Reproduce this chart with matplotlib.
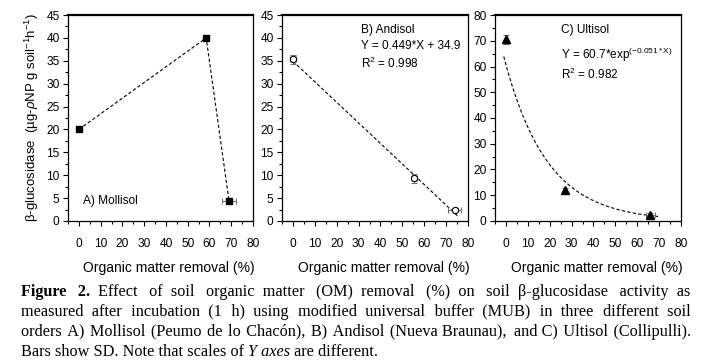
import numpy as np
import matplotlib.pyplot as plt
from matplotlib.ticker import MultipleLocator

plt.rcParams['font.family'] = ['Liberation Sans', 'DejaVu Sans']
plt.rcParams['mathtext.fontset'] = 'custom'
plt.rcParams['mathtext.rm'] = 'Liberation Sans'
plt.rcParams['mathtext.it'] = 'Liberation Sans:italic'
plt.rcParams['mathtext.bf'] = 'Liberation Sans:bold'

# A) Mollisol
mol_x = [0, 58.5, 69]
mol_y = [20, 40, 4.3]
mol_xerr = [0, 1.0, 3.3]
mol_yerr = [0, 0, 0]

# B) Andisol
and_x = [0, 55.5, 74]
and_y = [35.3, 9.3, 2.5]
and_xerr = [1.5, 1.0, 3.0]
and_yerr = [1.0, 1.0, 0.4]
and_slope, and_icpt = -0.449, 34.9
and_fit_range = (0, 75.5)

# C) Ultisol
ult_x = [0, 27, 66]
ult_y = [70.5, 12, 2.5]
ult_xerr = [0, 0, 2.0]
ult_yerr = [1.6, 0.8, 0.5]
ult_a, ult_b = 60.7, -0.051
ult_fit_range = (-1, 70)

fig = plt.figure(figsize=(7.07, 3.64), dpi=100)
W, H = 707, 364

def px_axes(l, r, t, b):
    return fig.add_axes([l / W, 1 - b / H, (r - l) / W, (b - t) / H])

axA = px_axes(68, 253, 15, 221)
axB = px_axes(282, 468, 15, 221)
axC = px_axes(495, 681, 15, 221)

for ax, ymax, ymaj in [(axA, 45, 5), (axB, 45, 5), (axC, 80, 10)]:
    ax.set_xlim(-5, 80)
    ax.set_ylim(0, ymax)
    ax.xaxis.set_major_locator(MultipleLocator(10))
    ax.xaxis.set_minor_locator(MultipleLocator(5))
    ax.yaxis.set_major_locator(MultipleLocator(ymaj))
    ax.yaxis.set_minor_locator(MultipleLocator(ymaj / 2))
    ax.tick_params(which='major', direction='out', length=3.6, width=0.8, labelsize=8.6)
    ax.tick_params(which='minor', direction='out', length=2.2, width=0.8)
    ax.tick_params(axis='x', which='major', pad=9)
    ax.tick_params(axis='y', which='major', pad=2.5)
    ax.spines['top'].set_linewidth(1.6)
    ax.spines['right'].set_linewidth(0.9)
    ax.spines['left'].set_linewidth(0.9)
    ax.spines['bottom'].set_linewidth(0.9)
    ax.set_xlabel('Organic matter removal (%)', fontsize=10)
    ax.xaxis.set_label_coords(0.546, -0.195)

axA.set_ylabel(r'β-glucosidase  (µg-$\rho$NP g soil$^{-1}$h$^{-1}$)', fontsize=9.5, labelpad=4)

ekw = dict(ecolor='0.45', elinewidth=0.8, capsize=2, capthick=0.8, linestyle='none')

# A
axA.plot(mol_x, mol_y, color='black', linestyle=(0, (3, 2)), linewidth=0.8)
axA.errorbar(mol_x, mol_y, xerr=mol_xerr, yerr=mol_yerr, marker='s', markersize=5,
             color='black', **ekw)
axA.text(1.8, 4.3, 'A) Mollisol', fontsize=8.6, ha='left', va='center')

# B
xb = np.linspace(*and_fit_range, 50)
axB.plot(xb, and_slope * xb + and_icpt, color='black', linestyle=(0, (3, 2)), linewidth=0.8)
axB.errorbar(and_x, and_y, xerr=and_xerr, yerr=and_yerr, marker='o', markersize=4.5,
             markerfacecolor='white', markeredgecolor='black', markeredgewidth=0.8, **ekw)
axB.text(31, 41.8, 'B) Andisol', fontsize=8.6, ha='left', va='center')
axB.text(31, 38.3, 'Y = 0.449*X + 34.9', fontsize=8.5, ha='left', va='center')
axB.text(31, 34.5, r'R$^2$ = 0.998', fontsize=8.5, ha='left', va='center')

# C
xc = np.linspace(*ult_fit_range, 100)
axC.plot(xc, ult_a * np.exp(ult_b * xc), color='black', linestyle=(0, (3, 2)), linewidth=0.8)
axC.errorbar(ult_x, ult_y, xerr=ult_xerr, yerr=ult_yerr, marker='^', markersize=5.5,
             color='black', **ekw)
axC.text(25.3, 74.2, 'C) Ultisol', fontsize=8.6, ha='left', va='center')
axC.text(25.3, 64.5, r'Y = 60.7*exp$^{\mathrm{(-0.051*X)}}$', fontsize=8.5, ha='left', va='center')
axC.text(25.3, 57.0, r'R$^2$ = 0.982', fontsize=8.5, ha='left', va='center')

# caption: each line is a list of (text, weight, style) runs
cap_lines = [
    [('Figure 2.', 'bold', 'normal'),
     ('Effect of soil organic matter (OM) removal (%) on soil β-glucosidase activity as', 'normal', 'normal')],
    [('measured after incubation (1 h) using modified universal buffer (MUB) in three different soil', 'normal', 'normal')],
    [('orders A) Mollisol (Peumo de lo Chacón), B) Andisol (Nueva Braunau), and C) Ultisol (Collipulli).', 'normal', 'normal')],
    [('Bars show SD. Note that scales of', 'normal', 'normal'), ('Y axes', 'normal', 'italic'),
     ('are different.', 'normal', 'normal')],
]
cap_left, cap_right = 21, 691
cap_base = [296, 316, 336, 356]
cap_size = 11.7
serif = ['Liberation Serif', 'DejaVu Serif']
renderer = fig.canvas.get_renderer()

def tw(s, wt='normal', st='normal'):
    t = fig.text(0, 0, s, fontsize=cap_size, family=serif, weight=wt, style=st)
    w = t.get_window_extent(renderer).width
    t.remove()
    return w

base_aa = tw('aa')
space_kinds = [(c, tw('a' + c + 'a') - base_aa) for c in [' ', '\u2009', '\u200a']]
space_kinds = [(c, w) for c, w in space_kinds if w > 0.3]
sp_w = space_kinds[0][1]

def fill_gap(g):
    # build a run of space characters whose width is close to g
    out, acc = ' ', sp_w
    for c, w in space_kinds:
        while acc + w <= g + w / 2:
            out += c
            acc += w
    return out, acc

for i, line in enumerate(cap_lines):
    ys = 1 - cap_base[i] / H
    justify = i < len(cap_lines) - 1
    words = []
    for run_i, (chunk, wt, st) in enumerate(line):
        for w in chunk.split(' '):
            words.append((w, wt, st, run_i))
    widths = [tw(w, wt, st) for w, wt, st, _ in words]
    if justify:
        gap = (cap_right - cap_left - sum(widths)) / (len(words) - 1)
    else:
        gap = sp_w
    # build one string per run, with spaces sized to land on the target positions
    x_target = cap_left
    x_actual = cap_left
    run_start = {}
    run_text = {}
    for k, (w, wt, st, r) in enumerate(words):
        if r not in run_start:
            run_start[r] = x_target
            run_text[r] = w
            x_actual = x_target + widths[k]
        else:
            want = x_target - x_actual
            s, sw = fill_gap(want)
            run_text[r] += s + w
            x_actual += sw + widths[k]
        x_target += widths[k] + gap
    for r, (chunk, wt, st) in enumerate(line):
        fig.text(run_start[r] / W, ys, run_text[r], fontsize=cap_size, family=serif,
                 weight=wt, style=st, va='baseline', ha='left')

fig.savefig('out.png', dpi=100)
